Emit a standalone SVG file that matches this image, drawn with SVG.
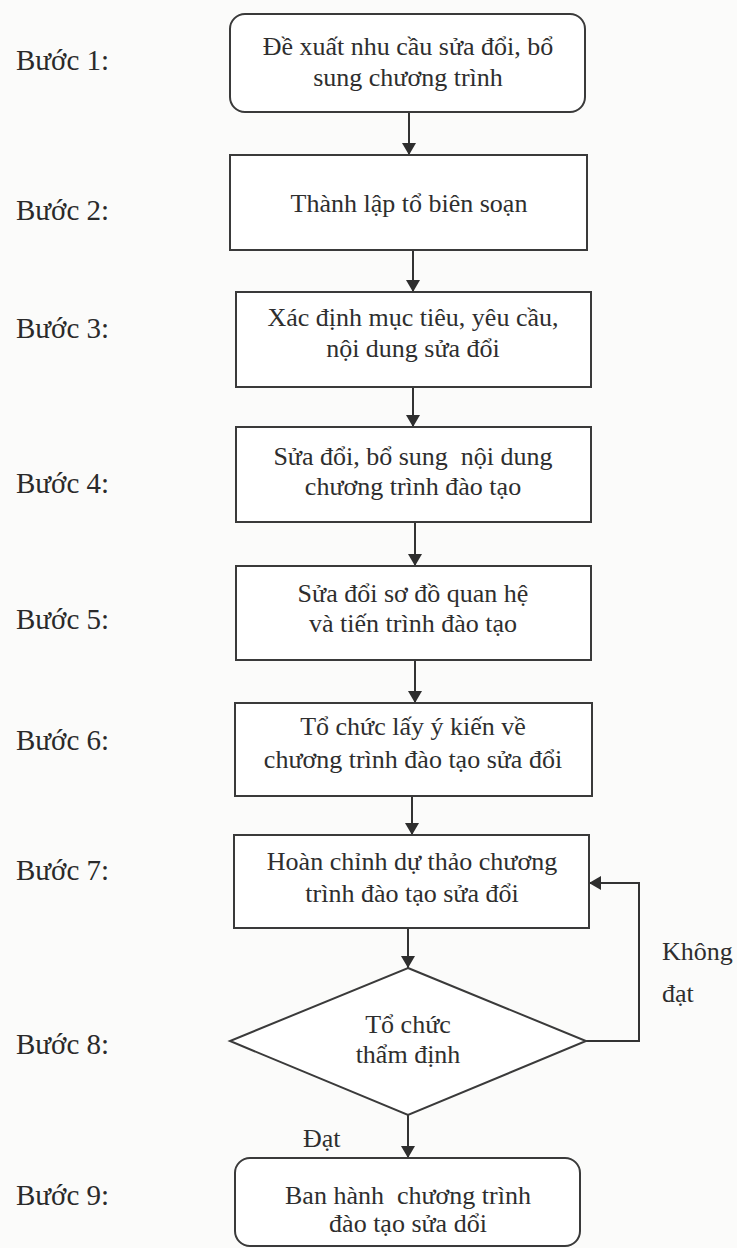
<svg xmlns="http://www.w3.org/2000/svg" width="737" height="1248" viewBox="0 0 737 1248">
<style>
.bg{fill:#fbfbfa}
.box{fill:#ffffff;stroke:#3a3a3a;stroke-width:2}
.t{font-family:"Liberation Serif","Times New Roman",serif;font-size:26px;fill:#2e2e2e;text-anchor:middle;white-space:pre}
.lbl{font-family:"Liberation Serif","Times New Roman",serif;font-size:29px;fill:#2a2a2a}
.side{font-family:"Liberation Serif","Times New Roman",serif;font-size:26px;fill:#2e2e2e}
.c{fill:none;stroke:#333333;stroke-width:2}
</style>
<defs>
<marker id="ah" viewBox="0 0 12 14" refX="12" refY="7" markerWidth="12" markerHeight="14" markerUnits="userSpaceOnUse" orient="auto">
<path d="M0,0 L12,7 L0,14 Z" fill="#2e2e2e"/>
</marker>
</defs>
<rect class="bg" x="0" y="0" width="737" height="1248"/>

<g id="labels">
<text class="lbl" x="16" y="70">Bước 1:</text>
<text class="lbl" x="16" y="220">Bước 2:</text>
<text class="lbl" x="16" y="338">Bước 3:</text>
<text class="lbl" x="16" y="493">Bước 4:</text>
<text class="lbl" x="16" y="629">Bước 5:</text>
<text class="lbl" x="16" y="750">Bước 6:</text>
<text class="lbl" x="16" y="880">Bước 7:</text>
<text class="lbl" x="16" y="1054">Bước 8:</text>
<text class="lbl" x="16" y="1205">Bước 9:</text>
</g>

<g id="connectors">
<line class="c" x1="409" y1="112" x2="409" y2="155" marker-end="url(#ah)"/>
<line class="c" x1="413" y1="250" x2="413" y2="292" marker-end="url(#ah)"/>
<line class="c" x1="413" y1="387" x2="413" y2="427" marker-end="url(#ah)"/>
<line class="c" x1="415" y1="522" x2="415" y2="566" marker-end="url(#ah)"/>
<line class="c" x1="415" y1="660" x2="415" y2="703" marker-end="url(#ah)"/>
<line class="c" x1="412" y1="796" x2="412" y2="835" marker-end="url(#ah)"/>
<line class="c" x1="408" y1="928" x2="408" y2="968" marker-end="url(#ah)"/>
<line class="c" x1="408" y1="1115" x2="408" y2="1158" marker-end="url(#ah)"/>
<polyline class="c" points="586,1041 639,1041 639,883 589,883" marker-end="url(#ah)"/>
<text class="side" x="303" y="1147">Đạt</text>
<text class="side" x="662" y="960">Không</text>
<text class="side" x="662" y="1002">đạt</text>
</g>

<g id="n1">
<rect class="box" x="230" y="14" width="355" height="98" rx="15"/>
<text class="t" x="408" y="55">Đề xuất nhu cầu sửa đổi, bổ</text>
<text class="t" x="408" y="86">sung chương trình</text>
</g>
<g id="n2">
<rect class="box" x="230" y="155" width="357" height="95"/>
<text class="t" x="409" y="212">Thành lập tổ biên soạn</text>
</g>
<g id="n3">
<rect class="box" x="236" y="292" width="355" height="95"/>
<text class="t" x="413" y="326">Xác định mục tiêu, yêu cầu,</text>
<text class="t" x="413" y="357">nội dung sửa đổi</text>
</g>
<g id="n4">
<rect class="box" x="236" y="427" width="355" height="95"/>
<text class="t" x="413" y="465">Sửa đổi, bổ sung  nội dung</text>
<text class="t" x="413" y="495">chương trình đào tạo</text>
</g>
<g id="n5">
<rect class="box" x="236" y="566" width="355" height="94"/>
<text class="t" x="413" y="602">Sửa đổi sơ đồ quan hệ</text>
<text class="t" x="413" y="632">và tiến trình đào tạo</text>
</g>
<g id="n6">
<rect class="box" x="235" y="703" width="357" height="93"/>
<text class="t" x="413" y="735">Tổ chức lấy ý kiến về</text>
<text class="t" x="413" y="768">chương trình đào tạo sửa đổi</text>
</g>
<g id="n7">
<rect class="box" x="234" y="835" width="355" height="93"/>
<text class="t" x="412" y="870">Hoàn chỉnh dự thảo chương</text>
<text class="t" x="412" y="902">trình đào tạo sửa đổi</text>
</g>
<g id="n8">
<polygon class="box" points="408,968 586,1041 408,1115 230,1041"/>
<text class="t" x="408" y="1033">Tổ chức</text>
<text class="t" x="408" y="1063">thẩm định</text>
</g>
<g id="n9">
<rect class="box" x="235" y="1158" width="345" height="88" rx="15"/>
<text class="t" x="408" y="1204">Ban hành  chương trình</text>
<text class="t" x="408" y="1232">đào tạo sửa dổi</text>
</g>
</svg>
